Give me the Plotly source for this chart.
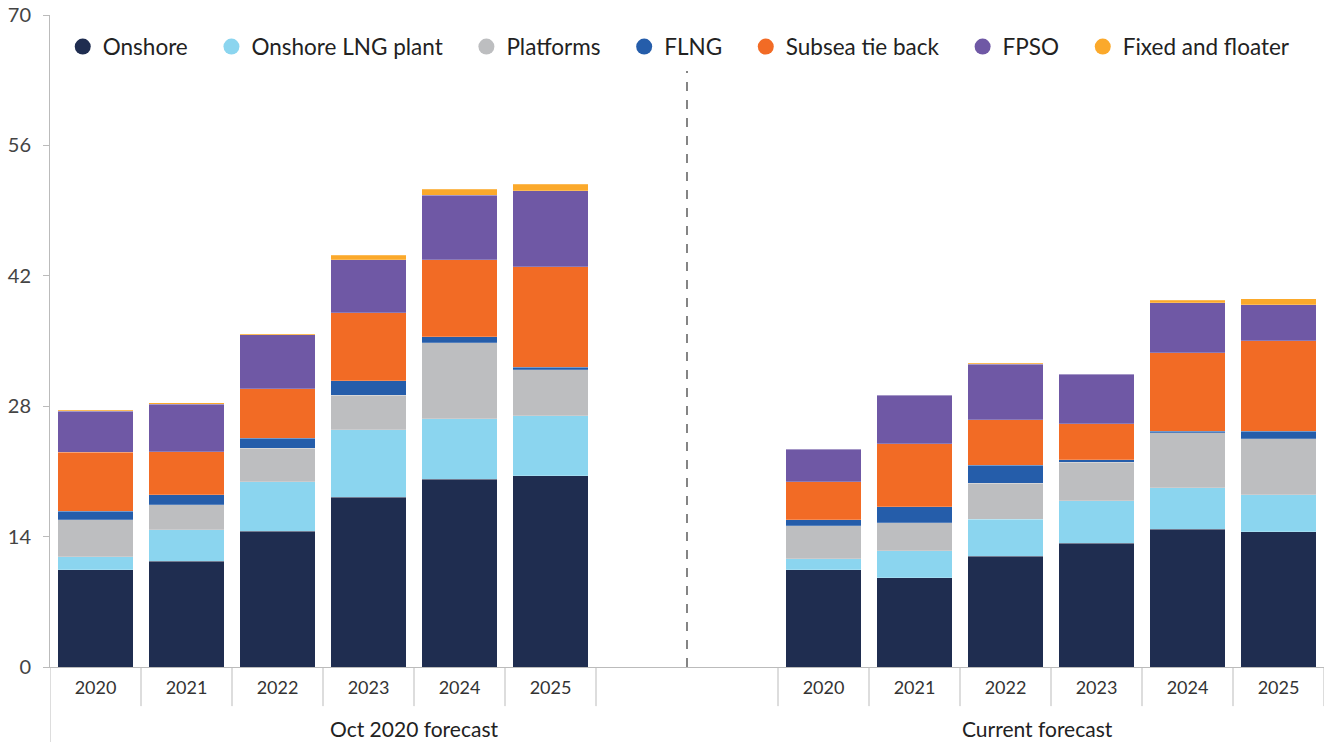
import plotly.graph_objects as go

years = ["2020", "2021", "2022", "2023", "2024", "2025"]
groups = ["Oct 2020 forecast", "Current forecast"]
series = ["Onshore", "Onshore LNG plant", "Platforms", "FLNG", "Subsea tie back", "FPSO", "Fixed and floater"]
colors = ["#1F2D50", "#8BD5EF", "#BDBEC0", "#255DAA", "#F26B25", "#6F58A5", "#FBA92B"]

# Oct 2020 forecast values
oct_onshore = [10.45, 11.35, 14.57, 18.22, 20.16, 20.55]
oct_lng = [1.37, 3.4, 5.34, 7.27, 6.48, 6.41]
oct_platforms = [4.0, 2.69, 3.58, 3.69, 8.16, 4.94]
oct_flng = [0.9, 1.07, 1.07, 1.54, 0.65, 0.29]
oct_subsea = [6.34, 4.62, 5.34, 7.3, 8.3, 10.77]
oct_fpso = [4.4, 5.08, 5.76, 5.7, 6.88, 8.17]
oct_fixed = [0.1, 0.15, 0.14, 0.46, 0.64, 0.68]

# Current forecast values
cur_onshore = [10.45, 9.6, 11.89, 13.28, 14.79, 14.54]
cur_lng = [1.19, 2.86, 3.97, 4.55, 4.44, 3.97]
cur_platforms = [3.54, 3.04, 3.87, 4.15, 5.9, 5.98]
cur_flng = [0.61, 1.69, 1.93, 0.25, 0.18, 0.82]
cur_subsea = [4.08, 6.76, 4.87, 3.87, 8.42, 9.71]
cur_fpso = [3.51, 5.23, 5.98, 5.34, 5.37, 3.86]
cur_fixed = [0.07, 0.07, 0.11, 0.07, 0.25, 0.68]

oct_series = [oct_onshore, oct_lng, oct_platforms, oct_flng, oct_subsea, oct_fpso, oct_fixed]
cur_series = [cur_onshore, cur_lng, cur_platforms, cur_flng, cur_subsea, cur_fpso, cur_fixed]

# slot positions: 6 bars, 2 empty slots, 6 bars
oct_x = list(range(0, 6))
cur_x = list(range(8, 14))
all_x = oct_x + cur_x

FONT = "Lato, 'Open Sans', sans-serif"
PAD = "\u00a0\u00a0\u00a0\u200a"

fig = go.Figure()
for name, col, ov, cv in zip(series, colors, oct_series, cur_series):
    fig.add_trace(go.Bar(
        x=all_x, y=ov + cv, name=name, marker_color=col,
        marker_line=dict(color="rgba(255,255,255,0.35)", width=0.6),
        width=0.83, showlegend=False,
        hovertemplate=name + ": %{y}<extra></extra>",
    ))
for i, (name, col) in enumerate(zip(series, colors)):
    pad = PAD if i < len(series) - 1 else ""
    fig.add_trace(go.Scatter(
        x=[None], y=[None], mode="markers", name=name + pad,
        marker=dict(symbol="circle", size=22, color=col), showlegend=True,
    ))

shapes = []
# dashed divider between groups
shapes.append(dict(type="line", xref="x", yref="y", x0=6.5, x1=6.5, y0=0, y1=64,
                   line=dict(color="#444444", width=1.3, dash="dash")))
# year separators in the category row
for sx in [0.5, 1.5, 2.5, 3.5, 4.5, 5.5, 7.5, 8.5, 9.5, 10.5, 11.5, 12.5, 13.5]:
    shapes.append(dict(type="line", xref="x", yref="paper", x0=sx, x1=sx, y0=0, y1=-0.06,
                       line=dict(color="#BBBBBB", width=1)))
# left axis line extended through labels
shapes.append(dict(type="line", xref="x", yref="paper", x0=-0.5, x1=-0.5, y0=0, y1=-0.116,
                   line=dict(color="#BBBBBB", width=1)))

annotations = [
    dict(text=groups[0], x=3.5, xref="x", y=-0.095, yref="paper", showarrow=False,
         font=dict(size=21, color="#222222", family=FONT), yanchor="middle"),
    dict(text=groups[1], x=10.35, xref="x", y=-0.095, yref="paper", showarrow=False,
         font=dict(size=21, color="#222222", family=FONT), yanchor="middle"),
]

fig.update_layout(
    width=1330, height=742,
    margin=dict(l=50, r=6, t=15, b=75, autoexpand=False),
    barmode="stack",
    plot_bgcolor="white", paper_bgcolor="white",
    font=dict(family=FONT, color="#333333"),
    shapes=shapes,
    annotations=annotations,
    legend=dict(orientation="h", x=0.010, xanchor="left", y=0.951, yanchor="middle",
                font=dict(size=22.5, color="#222222", family=FONT),
                bgcolor="rgba(255,255,255,0)", traceorder="normal"),
    xaxis=dict(range=[-0.5, 13.5], tickvals=all_x, ticktext=years + years,
               showgrid=False, zeroline=False, showline=True, linecolor="#BBBBBB",
               ticks="", ticklabelstandoff=4, automargin=False,
               tickfont=dict(size=18, color="#333333", family=FONT)),
    yaxis=dict(range=[0, 70], tickvals=[0, 14, 28, 42, 56, 70],
               showgrid=False, zeroline=False, showline=True, linecolor="#BBBBBB",
               ticks="outside", ticklen=6, tickcolor="#BBBBBB", ticklabelstandoff=8,
               automargin=False,
               tickfont=dict(size=20, color="#444444", family=FONT)),
)

fig.write_html("out.html", config={"displayModeBar": False},
               post_script="document.body.style.margin='0px';document.body.style.overflow='hidden';")
